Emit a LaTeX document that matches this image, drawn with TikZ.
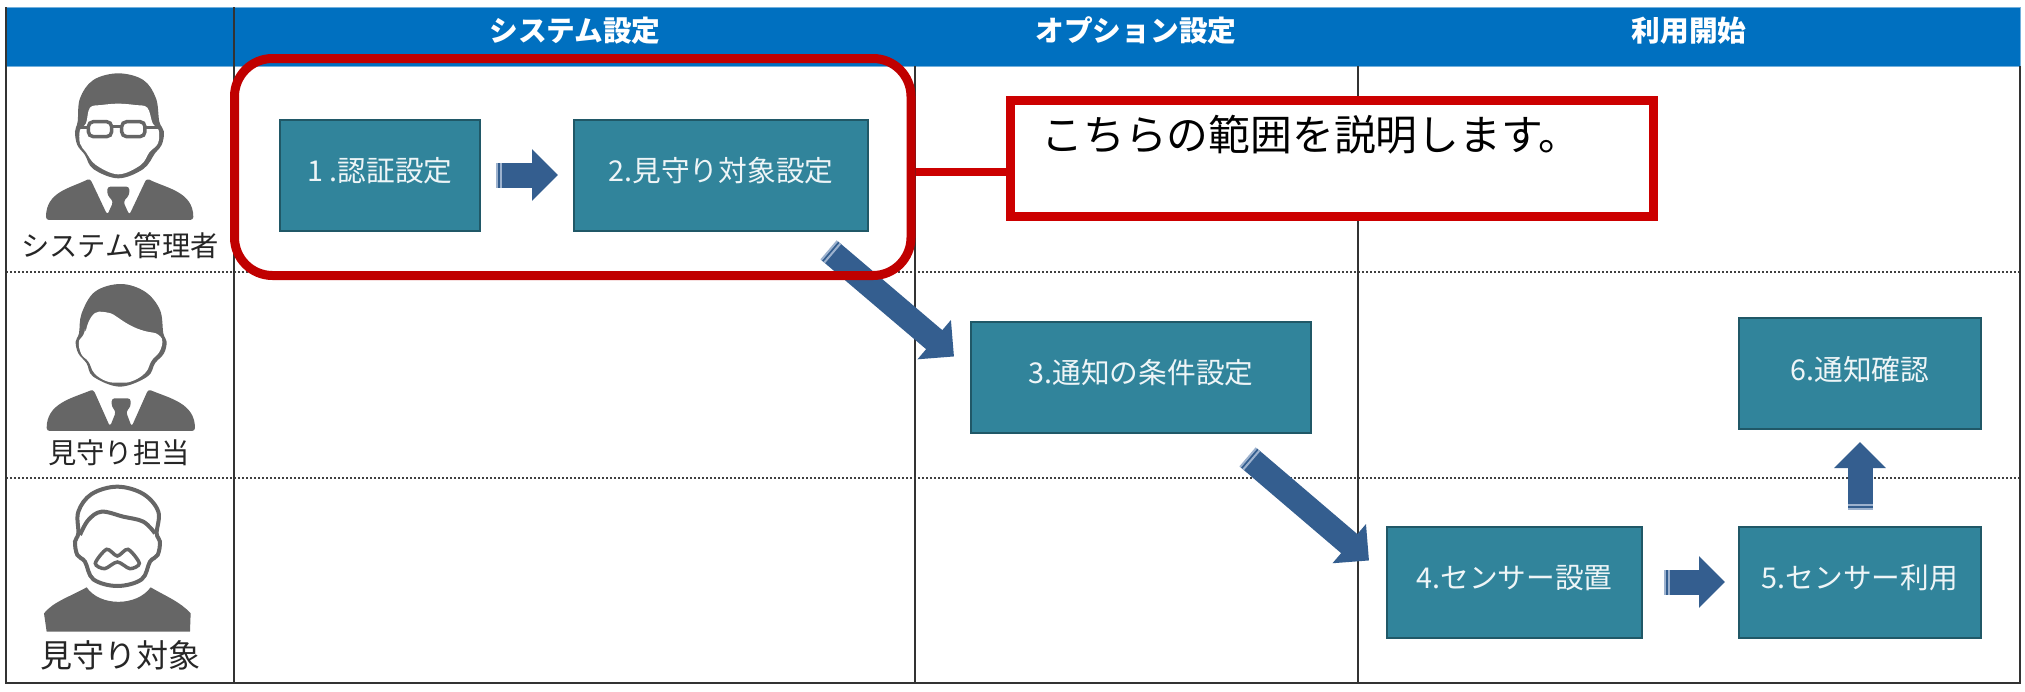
\documentclass[tikz,border=0pt]{standalone}
\usepackage{fontspec}
\setmainfont{Noto Sans CJK JP}
\usetikzlibrary{arrows.meta,positioning}
\definecolor{headblue}{HTML}{0070C0}
\definecolor{boxteal}{HTML}{31849B}
\definecolor{boxedge}{HTML}{205867}
\definecolor{arrowblue}{HTML}{345E8F}
\definecolor{tailblue}{HTML}{9DB2CE}
\definecolor{notered}{HTML}{CC0000}
\definecolor{rangered}{HTML}{C00000}
\definecolor{icongray}{HTML}{666666}
\tikzset{stepbox/.style={draw=boxedge,fill=boxteal,line width=2pt,text=white!92!boxteal,
                   minimum height=111pt,text height=22pt,text depth=9pt,inner sep=0pt,
                   font=\fontsize{28.7}{28}\selectfont},
         flowarrow/.style={line width=25pt,draw=arrowblue,
                   {Bar[width=25pt,line width=2pt,sep=2pt,color=tailblue]Bar[width=25pt,line width=2pt,sep=2pt,color=tailblue]}-{Triangle[length=26pt,width=50pt]}},
         headlabel/.style={text=white,font=\fontsize{28.7}{28}\selectfont\bfseries},
         rolelabel/.style={text=black!85,font=\fontsize{28.3}{28}\selectfont},
         griddots/.style={dotted,line width=2pt,black!75},
         gridline/.style={line width=2.5pt,black!80}}
\begin{document}
\begin{tikzpicture}[x=1pt,y=-1pt]
  \useasboundingbox[fill=white] (0,0) rectangle (2025,691);
  % table
  \fill[headblue,draw=headblue!55] (6,7) rectangle (2020,66);
  \foreach \y in {272,478}
    \draw[griddots] (6,\y) -- (2020,\y);
  \foreach \x in {915,1358}
    \draw[gridline] (\x,66) -- (\x,683);
  \draw[gridline] (234,7) -- (234,683);
  \draw[gridline] (6,7) -- (6,683) -- (2020,683) -- (2020,66);
  \node[headlabel] (headsys) at (575,31) {システム設定};
  \node[headlabel] (headopt) at (1136,31) {オプション設定};
  \node[headlabel] (headuse) at (1689,31) {利用開始};
  % people
  \begin{scope}[shift={(30,65)},x=.3333pt,y=-.3333pt]
    \fill[icongray] plot[smooth cycle,tension=.6] coordinates {(265,25) (190,45) (150,100) (143,170) (135,200) (142,240) (165,270) (190,312) (265,340) (340,312) (375,265) (395,240) (402,200) (388,170) (378,100) (340,45)};
    \fill[white] plot[smooth cycle,tension=.6] coordinates {(168,175) (180,128) (215,120) (265,116) (315,120) (352,128) (368,175) (386,195) (384,235) (358,262) (332,300) (265,328) (198,300) (168,262) (150,235) (150,195)};
    \draw[icongray,line width=3.5pt,rounded corners=5pt] (175,170) rectangle (245,215) (275,170) rectangle (345,215);
    \draw[icongray,line width=3.5pt] (150,188) -- (175,188) (245,185) -- (275,185) (345,188) -- (385,188);
    \fill[icongray,rounded corners=3pt] (180,340) .. controls (120,370) and (48,380) .. (48,465) -- (490,465) .. controls (490,380) and (410,370) .. (350,340) -- (298,450) -- (280,410) -- (298,390) -- (298,365) -- (232,365) -- (232,390) -- (250,410) -- (232,450) -- cycle;
  \end{scope}
  \begin{scope}[shift={(30,270)},x=.3333pt,y=-.3333pt]
    \fill[icongray] plot[smooth cycle,tension=.6] coordinates {(272,42) (195,65) (155,130) (147,190) (137,215) (145,250) (170,280) (190,320) (270,350) (352,320) (375,280) (402,250) (410,215) (400,190) (390,120) (345,65)};
    \fill[white,rounded corners=6pt] (165,195) .. controls (175,150) and (190,125) .. (225,125) .. controls (260,135) and (300,180) .. (388,190) .. controls (400,215) and (395,245) .. (362,270) .. controls (350,320) and (300,338) .. (270,338) .. controls (230,338) and (190,320) .. (178,272) .. controls (150,255) and (140,215) .. cycle;
    \fill[icongray,rounded corners=3pt] (190,358) .. controls (125,385) and (50,400) .. (50,483) -- (495,483) .. controls (495,400) and (420,385) .. (355,358) -- (305,470) -- (288,425) -- (302,410) -- (302,385) -- (245,385) -- (245,410) -- (258,425) -- (240,470) -- cycle;
  \end{scope}
  \begin{scope}[shift={(30,480)},x=.3333pt,y=-.3333pt]
    \draw[icongray,line width=4pt] plot[smooth cycle,tension=.6] coordinates {(262,20) (185,42) (145,95) (145,160) (135,185) (142,225) (165,245) (190,298) (262,318) (335,298) (360,245) (383,225) (390,185) (380,160) (385,95) (340,42)};
    \draw[icongray,line width=4pt] plot[smooth,tension=.6] coordinates {(150,165) (175,120) (215,95) (280,110) (340,125) (375,160)};
    \draw[icongray,line width=3.5pt] plot[smooth cycle,tension=.5] coordinates {(196,250) (230,208) (262,228) (294,208) (328,250) (300,266) (262,246) (224,266)};
    \fill[icongray] (170,322) .. controls (120,350) and (70,365) .. (42,400) -- (50,455) -- (480,455) -- (482,400) .. controls (450,365) and (410,350) .. (362,322) .. controls (320,380) and (210,380) .. cycle;
  \end{scope}
  \node[rolelabel] (rolesys) at (120,246) {システム管理者};
  \node[rolelabel] (rolewatch) at (119,453) {見守り担当};
  \node[rolelabel,font=\fontsize{32}{32}\selectfont] (roletarget) at (120.5,655) {見守り対象};
  % steps
  \node[stepbox,minimum width=200pt] (auth) at (380,175) {1 .認証設定};
  \node[stepbox,minimum width=294pt] (target) at (721,175) {2.見守り対象設定};
  \node[stepbox,minimum width=340pt] (cond) at (1141,377) {3.通知の条件設定};
  \node[stepbox,minimum width=255pt] (sensor) at (1514.5,582) {4.センサー設置};
  \node[stepbox,minimum width=242pt] (use) at (1860,582) {5.センサー利用};
  \node[stepbox,minimum width=242pt] (confirm) at (1860,373.5) {6.通知確認};
  \draw[flowarrow,shorten <=13pt,shorten >=15pt] (auth) -- (target);
  \draw[flowarrow] ([shift={(-42,17)}]target.south east) -- ([shift={(-16,36)}]cond.north west);
  \draw[flowarrow] ([shift={(-66,22)}]cond.south east) -- ([shift={(-17,35)}]sensor.north west);
  \draw[flowarrow,shorten <=19pt,shorten >=13pt] (sensor) -- (use);
  \draw[flowarrow,shorten <=14pt,shorten >=12pt] (use) -- (confirm);
  % highlighted range and its note
  \node[draw=rangered,line width=9pt,rounded corners=38pt,minimum width=676.5pt,minimum height=217pt] (range) at (572.75,167) {};
  \node[draw=notered,fill=white,line width=9pt,minimum width=643pt,minimum height=115.5pt,
        text width=581pt,inner xsep=31pt,inner ysep=0pt,text height=31pt,text depth=46pt,
        font=\fontsize{41.8}{42}\selectfont] (note) at (1332,158.25) {こちらの範囲を説明します。};
  \coordinate (notein) at ([yshift=-14pt]note.west);
  \draw[draw=notered,line width=8pt] (range.east |- notein) -- (notein);
\end{tikzpicture}
\end{document}
